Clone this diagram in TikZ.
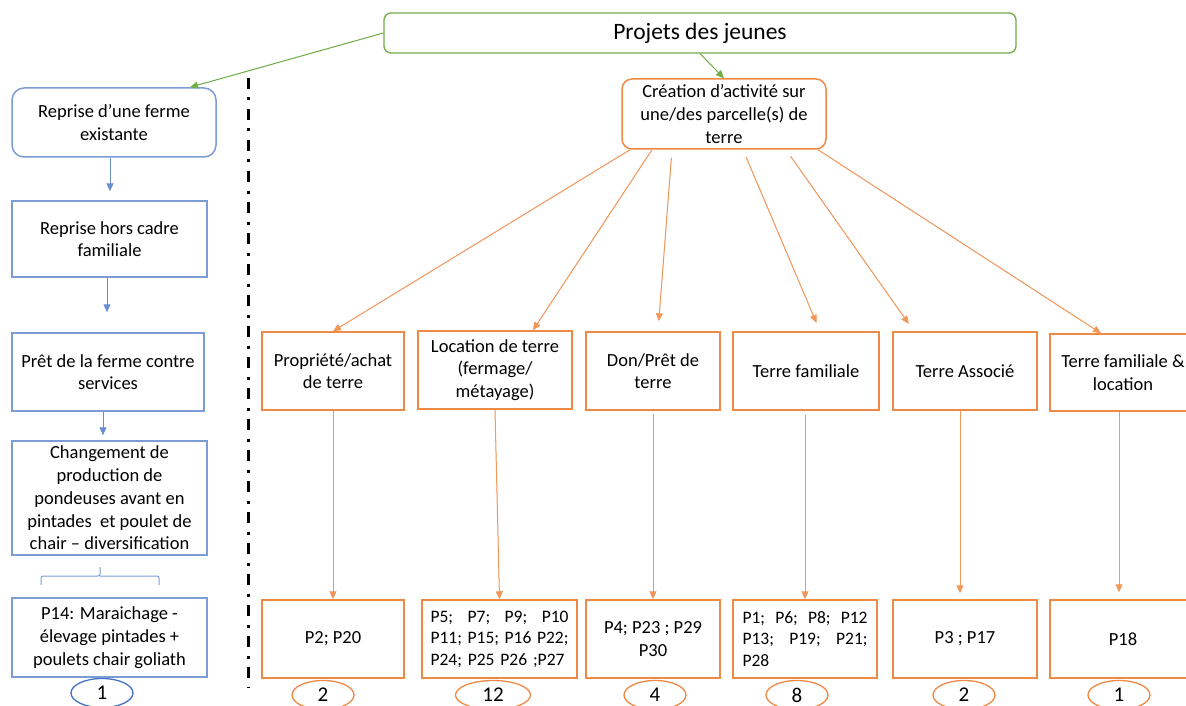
\documentclass[tikz,border=0pt]{standalone}
\usepackage{fontspec}
\setmainfont{Carlito}
\usetikzlibrary{arrows.meta,shapes.geometric}
\definecolor{grn}{HTML}{70AD47}
\definecolor{org}{HTML}{ED7D31}
\definecolor{blu}{HTML}{4472C4}
\begin{document}
\begin{tikzpicture}[x=1pt,y=-1pt,
  txt/.style={font=\fontsize{18.5}{22.7}\selectfont, align=center, inner sep=0pt, text=black},
  plist/.style={font=\fontsize{17.5}{21.5}\selectfont, inner sep=0pt, text=black},
  wh/.style 2 args={minimum width=#1pt, minimum height=#2pt},
  obox/.style={txt, draw=org!90, line width=1.5pt},
  orbox/.style={obox, rounded corners=10pt},
  bbox/.style={txt, draw=blu!70, line width=1.5pt},
  brbox/.style={bbox, rounded corners=12pt},
  gbox/.style={draw=grn, line width=1.3pt, rounded corners=7pt, inner sep=0pt,
    font=\fontsize{23.5}{28}\selectfont, text=black},
  oell/.style={ellipse, draw=org!90, line width=1.3pt, inner sep=0pt,
    font=\fontsize{21}{24}\selectfont, text=black, wh={62}{29}},
  bell/.style={oell, draw=blu},
  tip/.style={-{Triangle[length=8pt,width=7pt]}},
  garrow/.style={tip, draw=grn, fill=grn, line width=1pt},
  oarrow/.style={tip, draw=org!80, fill=org, line width=1pt},
  barrow/.style={tip, draw=blu!80, fill=blu, line width=1pt}
]
\path[use as bounding box, fill=white] (0,0) rectangle (1186,706);

% title and central node
\node[gbox, wh={632}{40}] (proj) at (700,33) {Projets des jeunes};
\node[orbox, wh={204}{70}] (cre) at (724,114) {Création d’activité sur\\une/des parcelle(s) de\\terre};

% left column: taking over an existing farm
\node[brbox, wh={204}{69}] (r1) at (114,122.5) {Reprise d’une ferme\\existante};
\node[bbox, wh={195}{76}] (r2) at (109.5,239) {Reprise hors cadre\\familiale};
\node[bbox, wh={192}{78}] (r3) at (108,372) {Prêt de la ferme contre\\services};
\node[bbox, wh={195}{114}] (r4) at (109.5,498) {Changement de\\production de\\pondeuses avant en\\pintades\ \ et poulet de\\chair – diversification};
\node[bbox, wh={195}{79}] (r5) at (109.5,637.5) {P14: Maraichage -\\élevage pintades +\\poulets chair goliath};
\node[bell] (e0) at (102,693) {1};

% brace between the last two left boxes
\draw[blu!70, line width=1pt, rounded corners=2pt]
  (41,585) |- (100,576) -- (100,567)
  (100,576) -| (159,585);

% separator
\draw[black, line width=3pt, dash pattern=on 11pt off 8.5pt on 3pt off 8.5pt] (248,78) -- (248,688);

% land access categories
\node[obox, wh={142}{78}] (t1) at (333,371) {Propriété/achat\\de terre};
\node[obox, wh={154}{78}] (t2) at (495,370) {Location de terre\\(fermage/\\métayage)};
\node[obox, wh={134}{78}] (t3) at (653,371) {Don/Prêt de\\terre};
\node[obox, wh={146}{78}] (t4) at (806,371) {Terre familiale};
\node[obox, wh={144}{78}] (t5) at (965,371) {Terre Associé};
\node[obox, wh={146}{77}] (t6) at (1123,372.5) {Terre familiale \&\\location};

% project lists
\node[obox, wh={142}{78}] (b1) at (333,639) {P2; P20};
\node[obox, wh={155}{78}] (b2) at (499.5,639) {};
\node[plist, text width=138pt, align=left] at (b2) {P5;\hfill P7;\hfill P9;\hfill P10\\P11;\hfill P15;\hfill P16\hfill P22;\\P24; P25 P26 ;P27};
\node[obox, wh={134}{78}] (b3) at (653,639) {P4; P23 ; P29\\P30};
\node[obox, wh={144}{78}] (b4) at (805,639) {};
\node[plist, text width=125pt, align=left] at (b4) {P1;\hfill P6;\hfill P8;\hfill P12\\P13;\hfill P19;\hfill P21;\\P28};
\node[obox, wh={144}{78}] (b5) at (965,639) {P3 ; P17};
\node[obox, wh={146}{78}] (b6) at (1123,639) {P18};

% counts
\node[oell] (e1) at (323,695) {2};
\node[oell, wh={75}{29}] (e2) at (493,695) {12};
\node[oell] (e3) at (655,695) {4};
\node[oell] (e4) at (797,695) {8};
\node[oell] (e5) at (964,695) {2};
\node[oell] (e6) at (1119,695) {1};

% connectors
\draw[garrow] (proj.west) -- ([xshift=76pt]r1.north);
\draw[garrow] (proj.south) -- (cre.north);

\draw[barrow, shorten >=9pt] ([xshift=-4pt]r1.south) -- ([xshift=0.5pt]r2.north);
\draw[barrow, shorten >=20pt] ([xshift=-2.5pt]r2.south) -- ([xshift=-1pt]r3.north);
\draw[barrow, shorten >=5pt] ([xshift=-5pt]r3.south) -- ([xshift=-6.5pt]r4.north);

\draw[oarrow] ([xshift=-94pt]cre.south) -- (t1.north);
\draw[oarrow] ([xshift=-72pt]cre.south) -- ([xshift=38pt]t2.north);
\draw[oarrow, shorten <=8pt, shorten >=10pt] ([xshift=-52pt]cre.south) -- ([xshift=5pt]t3.north);
\draw[oarrow, shorten <=8pt, shorten >=9pt] ([xshift=19pt]cre.south) -- ([xshift=14pt]t4.north);
\draw[oarrow, shorten <=8pt, shorten >=9pt] ([xshift=62pt]cre.south) -- ([xshift=-51pt]t5.north);
\draw[oarrow] ([xshift=94pt]cre.south) -- ([xshift=-22pt]t6.north);

\draw[oarrow] (t1.south) -- (b1.north);
\draw[oarrow] (t2.south) -- (b2.north);
\draw[oarrow, shorten <=3pt] (t3.south) -- (b3.north);
\draw[oarrow, shorten <=4pt] ([xshift=-1pt]t4.south) -- (b4.north);
\draw[oarrow, shorten >=6pt] ([xshift=-5pt]t5.south) -- ([xshift=-5pt]b5.north);
\draw[oarrow, shorten >=7pt] ([xshift=-4pt]t6.south) -- ([xshift=-4pt]b6.north);
\end{tikzpicture}
\end{document}
